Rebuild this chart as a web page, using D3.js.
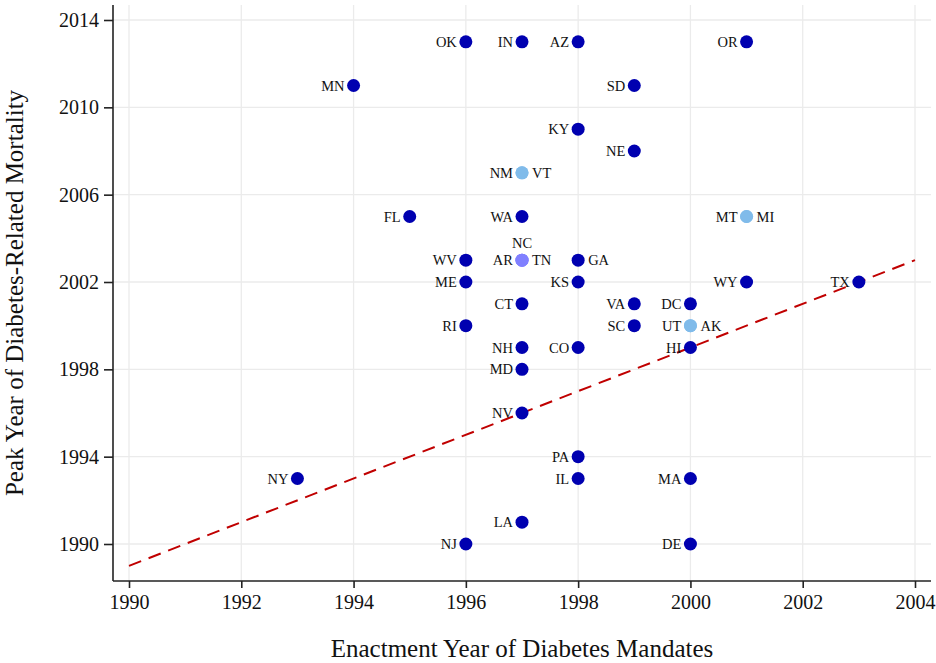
<!DOCTYPE html>
<html>
<head>
<meta charset="utf-8">
<script src="https://cdn.jsdelivr.net/npm/d3@7"></script>
<style>
  body { margin: 0; background: #fff; }
  svg text { font-family: "Liberation Serif", "Times New Roman", serif; }
</style>
</head>
<body>
<svg id="chart" width="936" height="663"></svg>
<script>
// State abbreviations, enactment year of the mandate, and peak mortality year
const states = ["OK","IN","AZ","OR","MN","SD","KY","NE","NM","VT","FL","WA","MT","MI",
  "WV","NC","AR","TN","GA","ME","KS","WY","TX","CT","VA","DC","RI","SC","UT","AK",
  "NH","CO","HI","MD","NV","PA","NY","IL","MA","LA","NJ","DE"];
const enactYear = [1996,1997,1998,2001,1994,1999,1998,1999,1997,1997,1995,1997,2001,2001,
  1996,1997,1997,1997,1998,1996,1998,2001,2003,1997,1999,2000,1996,1999,2000,2000,
  1997,1998,2000,1997,1997,1998,1993,1998,2000,1997,1996,2000];
const peakYear = [2013,2013,2013,2013,2011,2011,2009,2008,2007,2007,2005,2005,2005,2005,
  2003,2003,2003,2003,2003,2002,2002,2002,2002,2001,2001,2001,2000,2000,2000,2000,
  1999,1999,1999,1998,1996,1994,1993,1993,1993,1991,1990,1990];
// Label placement relative to the point
const labelSide = ["l","l","l","l","l","l","l","l","l","r","l","l","l","r",
  "l","t","l","r","r","l","l","l","l","l","l","l","l","l","l","r",
  "l","l","l","l","l","l","l","l","l","l","l","l"];

const xTicks = [1990,1992,1994,1996,1998,2000,2002,2004];
const yTicks = [1990,1994,1998,2002,2006,2010,2014];
const refLine = [[1990,1989],[2004,2003]]; // y = x - 1

const svg = d3.select("#chart");
const x = d3.scaleLinear().domain([1990, 2004]).range([129, 915]);
const y = d3.scaleLinear().domain([1990, 2014]).range([544, 20]);
const plotL = 113, plotR = 931, plotT = 5, plotB = 581;
const serif = "Liberation Serif, Times New Roman, serif";

// grid
const grid = svg.append("g").attr("stroke", "#ebebeb").attr("stroke-width", 1.3);
grid.selectAll("line.v").data(xTicks).join("line").attr("class", "v")
  .attr("x1", d => x(d)).attr("x2", d => x(d)).attr("y1", plotT).attr("y2", plotB);
grid.selectAll("line.h").data(yTicks).join("line").attr("class", "h")
  .attr("x1", plotL).attr("x2", plotR).attr("y1", d => y(d)).attr("y2", d => y(d));

// reference line
svg.append("path")
  .datum(refLine)
  .attr("d", d3.line().x(d => x(d[0])).y(d => y(d[1])))
  .attr("fill", "none").attr("stroke", "#c00000").attr("stroke-width", 2)
  .attr("stroke-dasharray", "13,8");

// axes
const xAxis = svg.append("g").attr("transform", `translate(0,${plotB})`)
  .call(d3.axisBottom(x).tickValues(xTicks).tickFormat(d3.format("d")).tickSize(7).tickPadding(7).tickSizeOuter(0));
xAxis.select(".domain").attr("d", `M${plotL},0H${plotR}`);
const yAxis = svg.append("g").attr("transform", `translate(${plotL},0)`)
  .call(d3.axisLeft(y).tickValues(yTicks).tickFormat(d3.format("d")).tickSize(9).tickPadding(5).tickSizeOuter(0));
yAxis.select(".domain").attr("d", `M0,${plotT}V${plotB}`);
svg.selectAll(".tick").attr("font-family", serif);
svg.selectAll("g").filter(function() { return this.getAttribute("font-family") === "sans-serif"; })
  .attr("font-family", serif).attr("font-size", 20);
svg.selectAll(".tick text").attr("font-family", serif).attr("font-size", 20).attr("fill", "#111");
svg.selectAll(".tick line, .domain").attr("stroke", "#222").attr("stroke-width", 1.6);

// overlapping counts determine point colour
const counts = d3.rollup(states.map((s, i) => i), v => v.length, i => enactYear[i] + "-" + peakYear[i]);
const colorFor = n => n >= 3 ? "#8080ff" : n === 2 ? "#80bbea" : "#0000b0";

const idx = d3.range(states.length);
svg.append("g").selectAll("circle").data(idx).join("circle")
  .attr("cx", i => x(enactYear[i])).attr("cy", i => y(peakYear[i])).attr("r", 6.5)
  .attr("fill", i => colorFor(counts.get(enactYear[i] + "-" + peakYear[i])));

svg.append("g").attr("font-family", serif).attr("font-size", 14.5).attr("fill", "#111")
  .selectAll("text").data(idx).join("text")
  .attr("x", i => x(enactYear[i]) + (labelSide[i] === "l" ? -9 : labelSide[i] === "r" ? 10 : 0))
  .attr("y", i => y(peakYear[i]) + (labelSide[i] === "t" ? -12 : 0))
  .attr("dy", i => labelSide[i] === "t" ? 0 : "0.35em")
  .attr("text-anchor", i => labelSide[i] === "l" ? "end" : labelSide[i] === "r" ? "start" : "middle")
  .text(i => states[i]);

// axis titles
svg.append("text").attr("x", 522).attr("y", 657).attr("text-anchor", "middle")
  .attr("font-family", serif).attr("font-size", 25).attr("fill", "#111")
  .text("Enactment Year of Diabetes Mandates");
svg.append("text").attr("transform", `translate(23,${(plotT + plotB) / 2}) rotate(-90)`)
  .attr("text-anchor", "middle").attr("font-family", serif).attr("font-size", 25).attr("fill", "#111")
  .text("Peak Year of Diabetes-Related Mortality");
</script>
</body>
</html>
